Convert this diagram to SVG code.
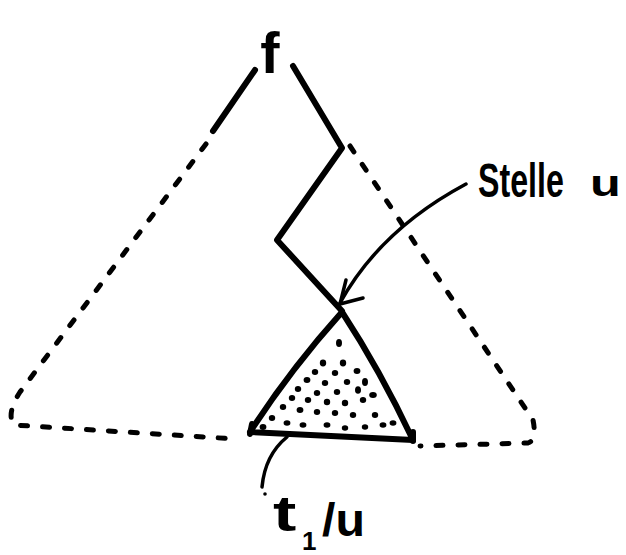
<svg xmlns="http://www.w3.org/2000/svg" width="626" height="555" viewBox="0 0 626 555">
<defs>
<style>
.solid{fill:none;stroke:#000;stroke-width:6;stroke-linecap:round;stroke-linejoin:round}
.thin{fill:none;stroke:#000;stroke-width:3.5;stroke-linecap:round;stroke-linejoin:round}
.dash{fill:none;stroke:#000;stroke-width:5;stroke-linecap:round;stroke-dasharray:7 15}
.lbl{font-family:"Liberation Sans","DejaVu Sans",sans-serif;fill:#000;font-weight:bold}
.dot{fill:#000}
</style>
</defs>
<rect width="626" height="555" fill="#fff"/>
<g id="root">
<text class="lbl" x="270" y="73" font-size="58" text-anchor="middle">f</text>
</g>
<g id="outer-tree">
<path class="solid" d="M255,70 L213,131"/>
<path class="dash" d="M206,144 L20,392 Q6,414 14,425 L236,439"/>
<path class="dash" d="M350,146 L533,420 Q537,440 528,443 L420,446"/>
</g>
<g id="path-to-u">
<path class="solid" d="M293,66 L342,148 L277,240 L342,311"/>
</g>
<g id="subtree">
<g class="dot">
<ellipse cx="339" cy="343" rx="3" ry="4"/><ellipse cx="323" cy="363" rx="3.2" ry="3.4"/><ellipse cx="343" cy="363" rx="3.2" ry="3.4"/><ellipse cx="357" cy="371" rx="3.4" ry="3"/>
<ellipse cx="315" cy="372" rx="3.2" ry="3"/><ellipse cx="335" cy="373" rx="3.2" ry="3"/><ellipse cx="307" cy="380" rx="3.4" ry="3"/><ellipse cx="325" cy="383" rx="3.2" ry="3"/>
<ellipse cx="347" cy="382" rx="3.2" ry="3"/><ellipse cx="365" cy="382" rx="3" ry="4"/><ellipse cx="298" cy="389" rx="3.2" ry="3"/><ellipse cx="317" cy="393" rx="3.2" ry="3"/>
<ellipse cx="337" cy="392" rx="3.2" ry="3"/><ellipse cx="358" cy="390" rx="3" ry="3.8"/><ellipse cx="373" cy="395" rx="3.8" ry="3"/><ellipse cx="292" cy="398" rx="3.2" ry="3"/>
<ellipse cx="308" cy="400" rx="3.2" ry="3"/><ellipse cx="327" cy="402" rx="3.2" ry="3.2"/><ellipse cx="345" cy="403" rx="3.2" ry="3.2"/><ellipse cx="363" cy="400" rx="3.2" ry="3"/>
<ellipse cx="283" cy="407" rx="3.2" ry="3"/><ellipse cx="300" cy="410" rx="3.4" ry="3"/><ellipse cx="317" cy="412" rx="3.2" ry="3"/><ellipse cx="335" cy="413" rx="3.2" ry="3"/>
<ellipse cx="353" cy="415" rx="3.2" ry="3"/><ellipse cx="375" cy="415" rx="3.2" ry="3"/><ellipse cx="272" cy="418" rx="3.2" ry="3"/><ellipse cx="287" cy="423" rx="3.4" ry="2.8"/>
<ellipse cx="303" cy="425" rx="3.4" ry="2.8"/><ellipse cx="327" cy="425" rx="3.4" ry="2.8"/><ellipse cx="345" cy="428" rx="3.2" ry="2.8"/><ellipse cx="365" cy="427" rx="3.2" ry="2.8"/>
<ellipse cx="383" cy="425" rx="3.4" ry="2.8"/><ellipse cx="393" cy="423" rx="3.4" ry="2.8"/><ellipse cx="263" cy="427" rx="3.4" ry="3"/>
</g>
<path class="solid" d="M342,312 Q290,370 250,432 L413,440 Q380,370 342,312 Z" stroke-width="4.5"/>
<path class="solid" d="M252,424 L250,434 M413,432 L413,441" stroke-width="7"/>
</g>
<g id="label-stelle">
<text class="lbl" font-size="48" transform="translate(478,197) scale(0.67,1)">Stelle</text>
<text class="lbl" font-size="36" transform="translate(590,196) scale(1.4,1)">u</text>
</g>
<g id="label-t1u">
<text class="lbl" font-size="50" transform="translate(273,531) scale(1.4,1)">t</text>
<text class="lbl" x="302" y="550" font-size="26">1</text>
<text class="lbl" font-size="46" transform="translate(322,536) scale(1.05,1)">/u</text>
</g>
<g id="connectors">
<path class="thin" d="M466,184 Q380,230 340,303"/>
<path class="thin" d="M346,280 L340,304 L363,298"/>
<path class="thin" d="M287,437 Q265,455 262,487"/>
<circle cx="265" cy="494" r="1.8" fill="#000"/>
</g>
</svg>
